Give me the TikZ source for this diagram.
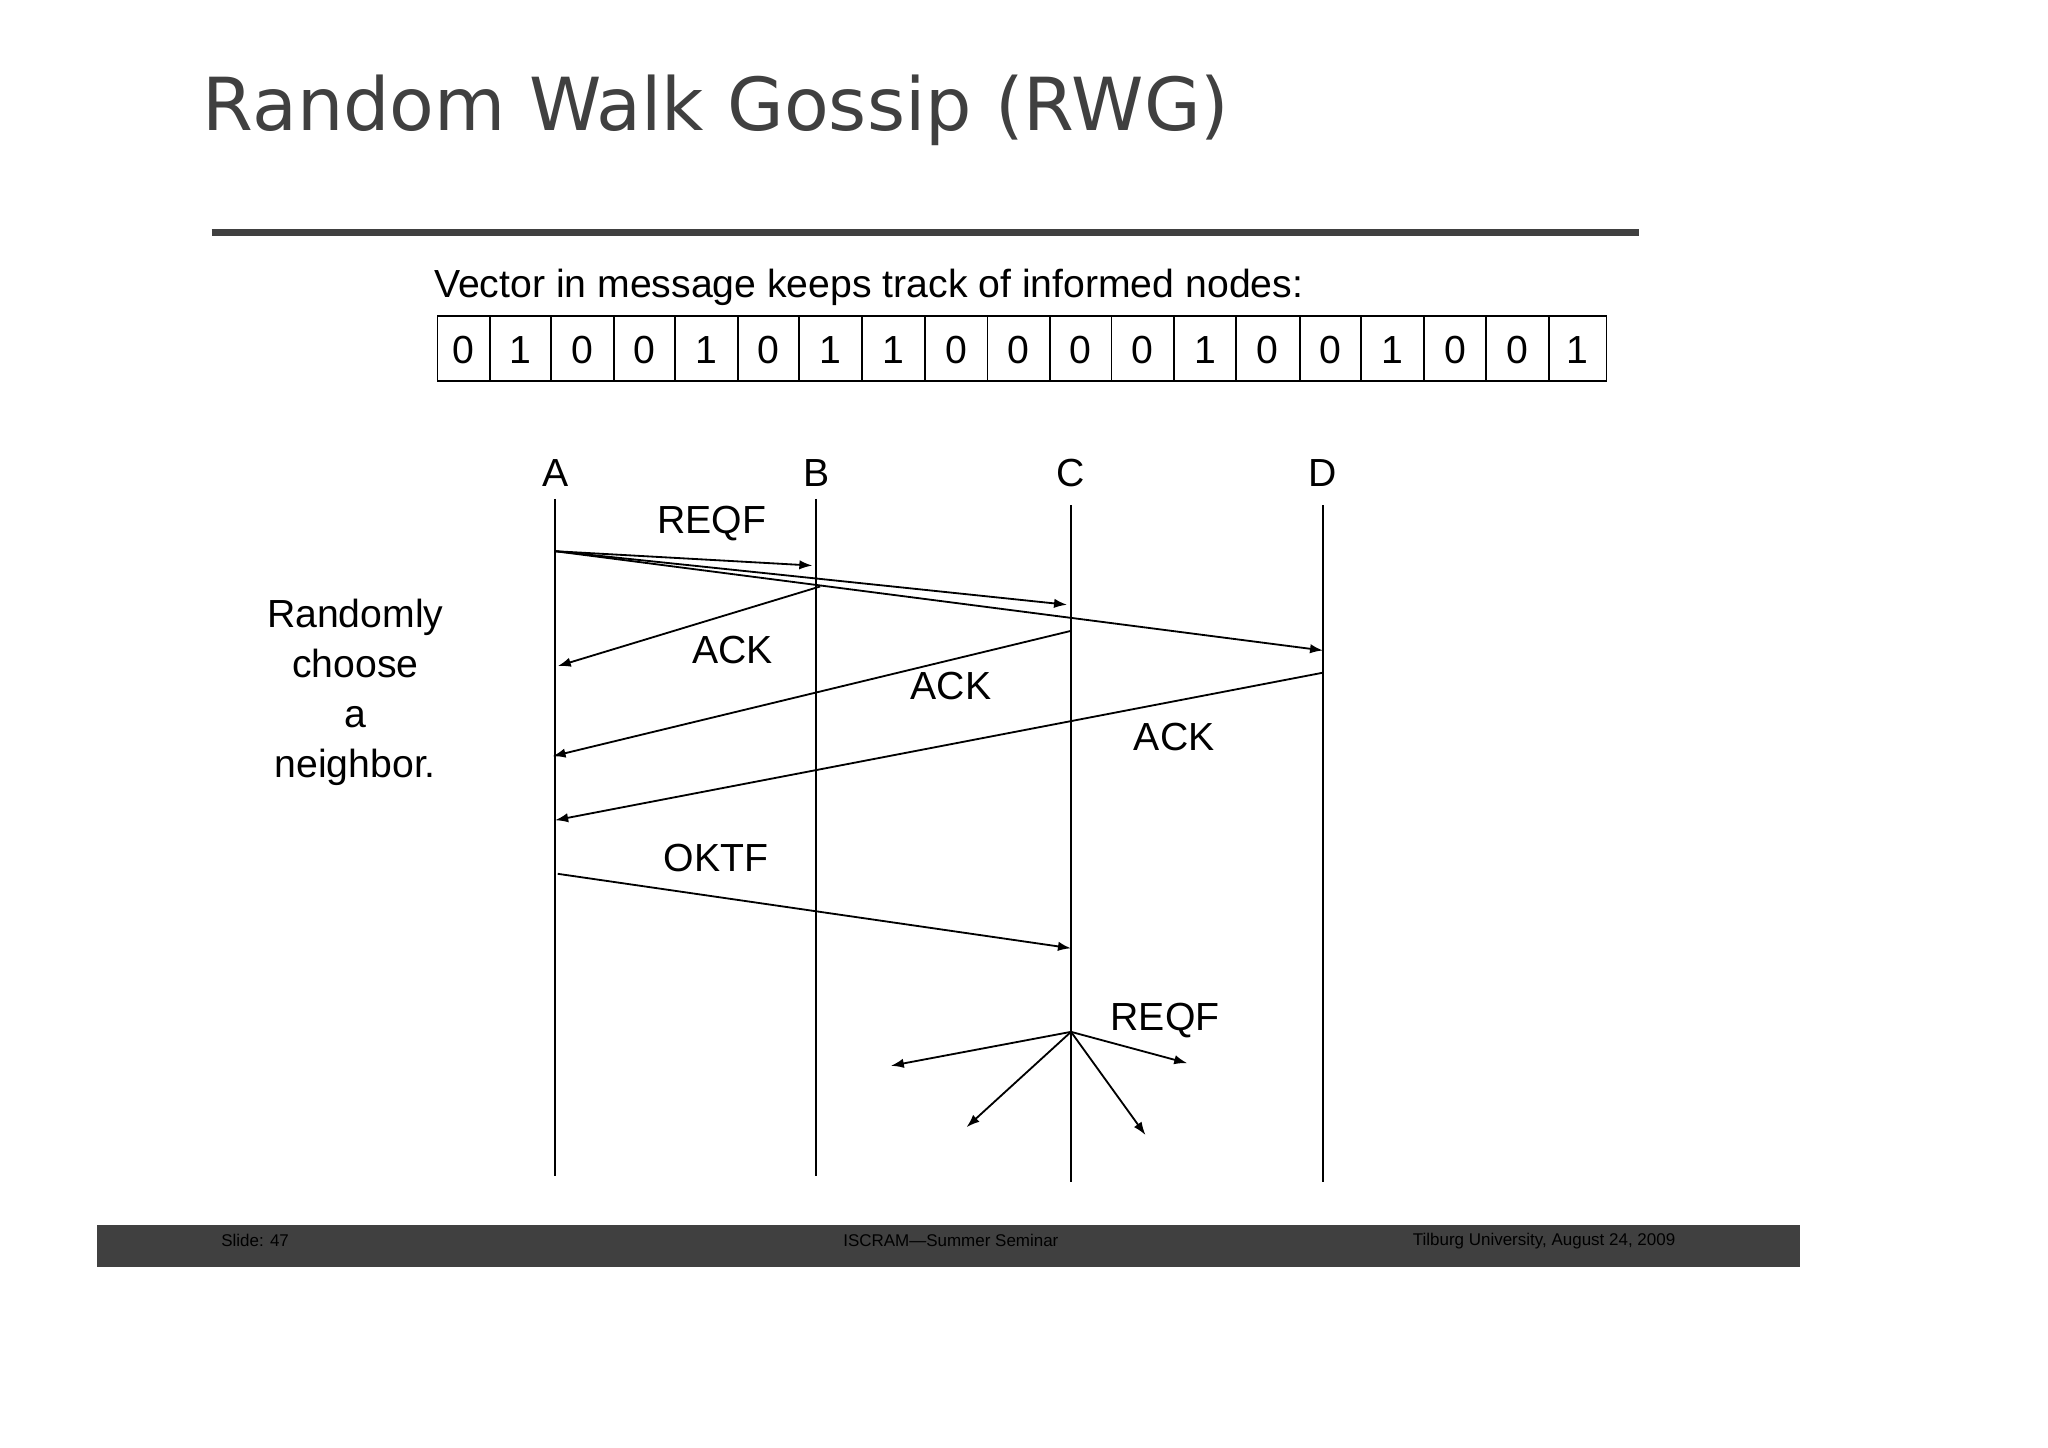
\documentclass[tikz,border=0pt]{standalone}
\usepackage{fontspec}
\setmainfont{Liberation Sans}
\newfontfamily\titlefont{DejaVu Sans}
\usetikzlibrary{arrows.meta}
\definecolor{dk}{HTML}{404040}
\begin{document}
\begin{tikzpicture}[x=0.5pt,y=-0.5pt,
  txt/.style={inner sep=0pt,font=\fontsize{15}{18}\selectfont},
  life/.style={line width=0.7pt},
  msg/.style={line width=0.7pt,-{Latex[length=5pt,width=3.6pt]}},
  cell/.style={draw,line width=0.7pt,minimum height=25pt,inner sep=0pt,anchor=north west,font=\fontsize{15}{18}\selectfont}]
\useasboundingbox (0,0) rectangle (1568,1108);
\fill[white] (0,0) rectangle (1568,1108);
\node[anchor=base west,inner sep=0pt,text=dk,font=\titlefont\fontsize{28}{32}\selectfont] (title) at (155,100) {Random Walk Gossip (RWG)};
\draw[dk,line width=2.5pt] (162,178) -- (1255,178);
\node[anchor=base west,inner sep=0pt,font=\fontsize{15}{18}\selectfont] (vec) at (332,228) {Vector in message keeps track of informed nodes:};
% cells
\foreach \a/\b/\d [count=\i] in {335/375/0,375/422/1,422/470/0,470/517/0,517/565/1,565/612/0,612/660/1,660/708/1,708/756/0,756/804/0,804/851/0,851/899/0,899/946/1,946/995/0,995/1042/0,1042/1090/1,1090/1138/0,1138/1186/0,1186/1230/1}{
  \draw[line width=0.7pt] (\a,242) rectangle (\b,292);
  \node[txt] (d\i) at ({(\a+\b)/2},268) {\d};
}
% lifelines
\foreach \n/\x/\t/\bt in {A/425/382/900,B/625/382/900,C/820/387/905,D/1013/387/905}{
  \node[txt] (L\n) at (\x,362) {\n};
  \coordinate (\n t) at (\x,\t);
  \coordinate (\n b) at (\x,\bt);
  \draw[life] (\n t) -- (\n b);
}
\coordinate (a1) at (425,422);
\coordinate (b1) at (622,433);
\coordinate (c1) at (817,463);
\coordinate (d1) at (1013,498);
\draw[msg] (a1) -- (b1);
\draw[msg] (a1) -- (c1);
\draw[msg] (a1) -- (d1);
\node[txt] (reqf1) at (545,401) {REQF};
\coordinate (b2) at (628,449); \coordinate (a2) at (427,510);
\draw[msg] (b2) -- (a2);
\node[txt] (ack1) at (561,498) {ACK};
\coordinate (c2) at (820,483); \coordinate (a3) at (423,579);
\draw[msg] (c2) -- (a3);
\node[txt] (ack2) at (728,525) {ACK};
\coordinate (d2) at (1013,515); \coordinate (a4) at (425,628);
\draw[msg] (d2) -- (a4);
\node[txt] (ack3) at (899,564) {ACK};
\coordinate (a5) at (427,669); \coordinate (c3) at (820,726);
\draw[msg] (a5) -- (c3);
\node[txt] (oktf) at (548,657) {OKTF};
\node[txt] (reqf2) at (892,781) {REQF};
\coordinate (c4) at (820,790);
\coordinate (e1) at (682,816);
\coordinate (e2) at (740,863);
\coordinate (e3) at (877,869);
\coordinate (e4) at (909,814);
\foreach \e in {e1,e2,e3,e4}{\draw[msg] (c4) -- (\e);}
\node[txt,align=center] (rand) at (272,530) {Randomly\\[1.2pt] choose\\[1.2pt] a\\[1.2pt] neighbor.};
% footer
\fill[dk] (74,938) rectangle (1378,970);
\node[anchor=west,inner sep=0pt,font=\fontsize{6.5}{8}\selectfont] (f1) at (169,950) {Slide: 47};
\node[inner sep=0pt,font=\fontsize{6.5}{8}\selectfont] (f2) at (728,950) {ISCRAM—Summer Seminar};
\node[anchor=east,inner sep=0pt,font=\fontsize{6.5}{8}\selectfont] (f3) at (1283,950) {Tilburg University, August 24, 2009};
\end{tikzpicture}
\end{document}
